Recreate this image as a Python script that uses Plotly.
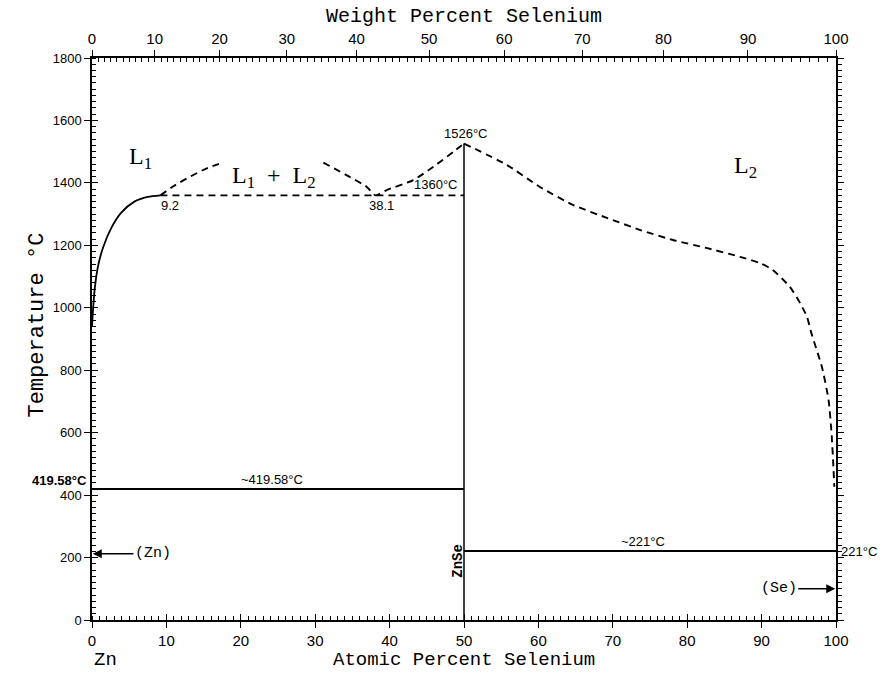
import plotly.graph_objects as go

# ---------------- data ----------------
at_ticks = [0, 10, 20, 30, 40, 50, 60, 70, 80, 90, 100]
wt_ticks = [0, 10, 20, 30, 40, 50, 60, 70, 80, 90, 100]
wt_minor = list(range(0, 101))
M_ZN, M_SE = 65.38, 78.96

zn_liq_x = [0, 0.13, 0.36, 0.8, 1.5, 2.6, 3.9, 5.7, 7.5, 9.2]
zn_liq_T = [940, 990, 1060, 1132, 1194, 1256, 1304, 1340, 1355, 1360]

gap_left_x = [9.2, 11.0, 13.2, 15.5, 17.6]
gap_left_T = [1360, 1390, 1420, 1447, 1465]

gap_right_x = [31.1, 34.2, 36.9, 38.1, 39.6, 43.2, 45.9, 48.6, 50]
gap_right_T = [1465, 1425, 1388, 1360, 1377, 1409, 1452, 1500, 1526]

se_liq_x = [50, 55.8, 60.2, 64.7, 69.2, 73.7, 78.1, 82.7, 87.1, 89.8, 91.5,
            93.8, 95.2, 96.1, 96.7, 98.1, 99.0, 99.4, 99.65, 99.77]
se_liq_T = [1526, 1457, 1387, 1329, 1288, 1249, 1217, 1191, 1163, 1143, 1121,
            1067, 1014, 971, 918, 811, 705, 598, 491, 427]

mono_x = [9.2, 50]
mono_T = [1360, 1360]
zn_eut_x = [0, 50]
zn_eut_T = [419.58, 419.58]
se_eut_x = [50, 100]
se_eut_T = [221, 221]
znse_x = [50, 50]
znse_T = [0, 1526]


def wt_to_at(w):
    if w <= 0:
        return 0.0
    if w >= 100:
        return 100.0
    a = w / M_SE
    b = (100 - w) / M_ZN
    return 100 * a / (a + b)


LINE = dict(color="black", width=1.8)
DASH = dict(color="black", width=1.9, dash="7px,5px")

fig = go.Figure()
fig.add_trace(go.Scatter(x=zn_liq_x, y=zn_liq_T, mode="lines", line=dict(LINE, shape="spline", smoothing=0.8), hoverinfo="skip"))
fig.add_trace(go.Scatter(x=gap_left_x, y=gap_left_T, mode="lines", line=dict(DASH, shape="spline"), hoverinfo="skip"))
fig.add_trace(go.Scatter(x=gap_right_x, y=gap_right_T, mode="lines", line=dict(DASH, shape="spline", smoothing=0.6), hoverinfo="skip"))
fig.add_trace(go.Scatter(x=se_liq_x, y=se_liq_T, mode="lines", line=dict(DASH, shape="spline", smoothing=0.6), hoverinfo="skip"))
fig.add_trace(go.Scatter(x=mono_x, y=mono_T, mode="lines", line=DASH, hoverinfo="skip"))
fig.add_trace(go.Scatter(x=zn_eut_x, y=zn_eut_T, mode="lines", line=dict(color="black", width=2), hoverinfo="skip"))
fig.add_trace(go.Scatter(x=se_eut_x, y=se_eut_T, mode="lines", line=dict(color="black", width=2), hoverinfo="skip"))
fig.add_trace(go.Scatter(x=znse_x, y=znse_T, mode="lines", line=dict(color="black", width=1.5), hoverinfo="skip"))

# dummy traces to activate overlay axes
for xa, ya in [("x2", "y"), ("x3", "y"), ("x4", "y"), ("x", "y2"), ("x", "y3")]:
    fig.add_trace(go.Scatter(x=[50], y=[900], xaxis=xa, yaxis=ya, mode="markers",
                             marker=dict(opacity=0), hoverinfo="skip", showlegend=False))

TICKFONT_X = dict(family="Liberation Sans Narrow, Liberation Sans, Arial", size=15, color="black")
TICKFONT_Y = dict(family="Liberation Sans, Arial", size=13, color="black")
AX = dict(showgrid=False, zeroline=False, linecolor="black", linewidth=1.5,
          tickcolor="black", tickwidth=1.3)

fig.update_layout(
    width=884, height=673,
    margin=dict(l=92, r=48, t=58, b=53),
    plot_bgcolor="white", paper_bgcolor="white",
    showlegend=False,
    xaxis=dict(AX, range=[0, 100], tickvals=at_ticks, ticks="outside", ticklen=6,
               showline=True, tickfont=TICKFONT_X,
               minor=dict(dtick=1, ticks="inside", ticklen=4, tickcolor="black", tickwidth=1)),
    xaxis3=dict(AX, range=[0, 100], overlaying="x", side="bottom", anchor="y",
                tickvals=at_ticks, ticks="inside", ticklen=6, showticklabels=False, showline=False),
    xaxis2=dict(AX, range=[0, 100], overlaying="x", side="top", anchor="y",
                tickvals=[wt_to_at(w) for w in wt_ticks], ticktext=[str(w) for w in wt_ticks],
                ticks="outside", ticklen=6, showline=True, tickfont=TICKFONT_X),
    xaxis4=dict(AX, range=[0, 100], overlaying="x", side="top", anchor="y",
                tickvals=[wt_to_at(w) for w in wt_minor], ticks="inside", ticklen=4,
                tickwidth=1, showticklabels=False, showline=False),
    yaxis=dict(AX, range=[0, 1800], dtick=200, ticks="outside", ticklen=6,
               showline=True, tickfont=TICKFONT_Y,
               minor=dict(dtick=20, ticks="inside", ticklen=4, tickcolor="black", tickwidth=1)),
    yaxis3=dict(AX, range=[0, 1800], overlaying="y", side="left", anchor="x",
                dtick=200, ticks="inside", ticklen=6, showticklabels=False, showline=False),
    yaxis2=dict(AX, range=[0, 1800], overlaying="y", side="right", anchor="x",
                dtick=200, ticks="outside", ticklen=6, showticklabels=False, showline=True,
                minor=dict(dtick=20, ticks="outside", ticklen=4, tickcolor="black", tickwidth=1)),
)

MONO = "Liberation Mono, Courier New, monospace"
SERIF = "Liberation Serif, Times New Roman, serif"
SANS = "Liberation Sans, Arial, sans-serif"

anns = []
# axis titles
anns.append(dict(text="Weight Percent Selenium", xref="paper", yref="paper", x=0.5, y=1,
                 yanchor="bottom", yshift=28, showarrow=False, font=dict(family=MONO, size=20)))
anns.append(dict(text="Atomic Percent Selenium", xref="paper", yref="paper", x=0.5, y=0,
                 yanchor="top", yshift=-27, showarrow=False, font=dict(family=MONO, size=19)))
anns.append(dict(text="Zn", xref="x", yref="paper", x=1.8, y=0,
                 yanchor="top", yshift=-27, showarrow=False, font=dict(family=MONO, size=19)))
anns.append(dict(text="Se", xref="x", yref="paper", x=100.5, y=0,
                 yanchor="top", yshift=-27, showarrow=False, font=dict(family=MONO, size=19)))
anns.append(dict(text="Temperature °C", xref="paper", yref="paper", x=0, xshift=-70, y=0.5,
                 yshift=14, textangle=-90, showarrow=False, font=dict(family=MONO, size=22)))

# phase labels
anns.append(dict(text="L<sub>1</sub>", x=6.5, y=1480, showarrow=False, font=dict(family=SERIF, size=24)))
anns.append(dict(text="L<sub>1</sub>  +  L<sub>2</sub>", x=24.5, y=1420, showarrow=False, font=dict(family=SERIF, size=24)))
anns.append(dict(text="L<sub>2</sub>", x=87.8, y=1450, showarrow=False, font=dict(family=SERIF, size=24)))

# numeric labels
small = dict(family=SANS, size=13, color="black")
anns.append(dict(text="1526°C", x=50.3, y=1526, yanchor="bottom", yshift=1, showarrow=False, font=small))
anns.append(dict(text="1360°C", x=46.3, y=1360, yanchor="bottom", yshift=1, showarrow=False, font=small))
anns.append(dict(text="9.2", x=10.5, y=1360, yanchor="top", yshift=-1, showarrow=False, font=small))
anns.append(dict(text="38.1", x=38.9, y=1360, yanchor="top", yshift=-1, showarrow=False, font=small))
anns.append(dict(text="~419.58°C", x=24.2, y=419.58, yanchor="bottom", yshift=0, showarrow=False, font=small))
anns.append(dict(text="<b>419.58°C</b>", x=0, y=419.58, xanchor="right", yanchor="bottom", xshift=-3,
                 yshift=-1, showarrow=False, font=small))
anns.append(dict(text="~221°C", x=74.1, y=221, yanchor="bottom", yshift=0, showarrow=False, font=small))
anns.append(dict(text="221°C", x=100, y=221, xanchor="left", xshift=3, showarrow=False, font=small))
anns.append(dict(text="<b>ZnSe</b>", x=49.2, y=190, textangle=-90, showarrow=False,
                 font=dict(family=MONO, size=14)))

# arrows
anns.append(dict(text="(Zn)", x=0.1, y=212, ax=8.2, ay=212, axref="x", ayref="y",
                 showarrow=True, arrowhead=2, arrowsize=1.2, arrowwidth=1.5, arrowcolor="black",
                 font=dict(family=MONO, size=15)))
anns.append(dict(text="(Se)", x=99.9, y=100, ax=92.3, ay=100, axref="x", ayref="y",
                 showarrow=True, arrowhead=2, arrowsize=1.2, arrowwidth=1.5, arrowcolor="black",
                 font=dict(family=MONO, size=15)))

for a in anns:
    a.setdefault("xref", "x")
    a.setdefault("yref", "y")
    a.setdefault("font", {})
    a["font"].setdefault("color", "black")

fig.update_layout(annotations=anns)
fig.write_html("out.html")
